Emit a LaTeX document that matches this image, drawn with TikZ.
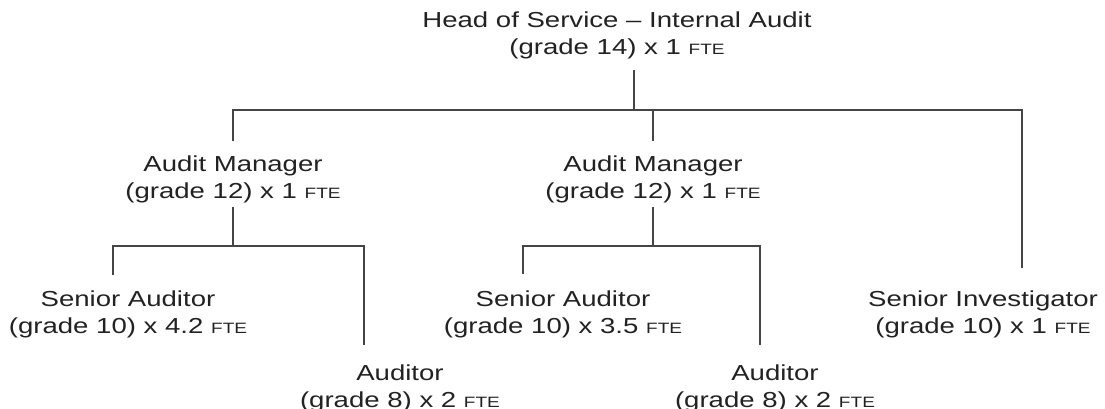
\documentclass[tikz,border=0pt]{standalone}
\usepackage{fontspec}
\setmainfont{Liberation Sans}[FakeStretch=1.27]
\definecolor{txt}{HTML}{222222}
\definecolor{ln}{HTML}{454545}
\newcommand{\fte}{{\fontsize{15}{15}\selectfont FTE}}
\newcommand{\twoline}[2]{\begin{tabular}[t]{@{}c@{}}#1\\#2\end{tabular}}
\begin{document}
\begin{tikzpicture}[x=1pt,y=-1pt,
  lbl/.style={anchor=base, inner sep=0pt, text=txt, font=\fontsize{21.7}{27}\selectfont},
  conn/.style={draw=ln, line width=1.5pt}]
\useasboundingbox[fill=white] (0,0) rectangle (1105,409);

\node[lbl] (head) at (617,28) {\twoline{Head of Service – Internal Audit}{(grade 14) x 1 \fte}};
\node[lbl] (am1) at (233,171) {\twoline{Audit Manager}{(grade 12) x 1 \fte}};
\node[lbl] (am2) at (653,171) {\twoline{Audit Manager}{(grade 12) x 1 \fte}};
\node[lbl] (sa1) at (128,306) {\twoline{Senior Auditor}{(grade 10) x 4.2 \fte}};
\node[lbl] (au1) at (400,380) {\twoline{Auditor}{(grade 8) x 2 \fte}};
\node[lbl] (sa2) at (563,306) {\twoline{Senior Auditor}{(grade 10) x 3.5 \fte}};
\node[lbl] (au2) at (775,380) {\twoline{Auditor}{(grade 8) x 2 \fte}};
\node[lbl] (si) at (983,306) {\twoline{Senior Investigator}{(grade 10) x 1 \fte}};

\coordinate (head-s) at (634,70);
\coordinate (bus) at (634,110);
\coordinate (am1-n) at (233,141);
\coordinate (am2-n) at (653,141);
\coordinate (si-n) at (1022,268);
\coordinate (am1-s) at (233,207);
\coordinate (b1) at (233,246);
\coordinate (sa1-n) at (113,275);
\coordinate (au1-n) at (364,345);
\coordinate (am2-s) at (653,207);
\coordinate (b2) at (653,246);
\coordinate (sa2-n) at (523,274);
\coordinate (au2-n) at (760,345);

\draw[conn] (head-s) -- (bus);
\draw[conn] (am1-n) -- (am1-n |- bus) -- (si-n |- bus) -- (si-n);
\draw[conn] (am2-n) -- (am2-n |- bus);
\draw[conn] (am1-s) -- (b1);
\draw[conn] (sa1-n) -- (sa1-n |- b1) -- (au1-n |- b1) -- (au1-n);
\draw[conn] (am2-s) -- (b2);
\draw[conn] (sa2-n) -- (sa2-n |- b2) -- (au2-n |- b2) -- (au2-n);
\end{tikzpicture}
\end{document}
